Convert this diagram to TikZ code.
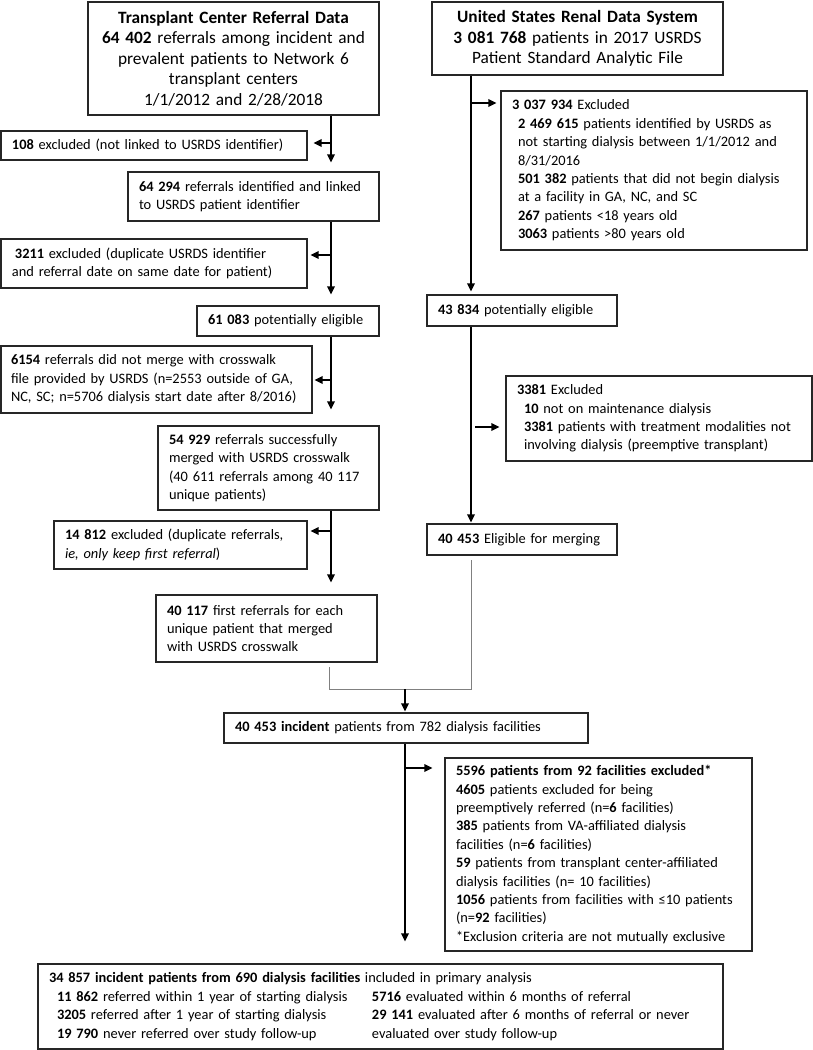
\documentclass[tikz,border=0pt]{standalone}
\usepackage{fontspec}
\setmainfont{Carlito}
\usetikzlibrary{arrows.meta}
\begin{document}
\begin{tikzpicture}[x=1pt,y=-1pt,
  box/.style={draw=black!85, line width=1.1pt, inner xsep=11pt, inner ysep=0pt,
    font=\fontsize{14.4}{18.4}\selectfont, align=left},
  headbox/.style={box, align=center, font=\fontsize{17.3}{20.5}\selectfont},
  arr/.style={line width=1.7pt, -{Triangle[length=8pt,width=7.5pt]}},
  thinline/.style={draw=black!50, line width=0.9pt}]
\useasboundingbox (0,0) rectangle (813,1050);

% ---------- left column ----------
\node[headbox, minimum width=291pt, minimum height=113pt, text width=275pt, inner xsep=8pt] (tc) at (233.5,58.5)
  {\textbf{Transplant Center Referral Data}\\
   \textbf{64 402} referrals among incident and\\
   prevalent patients to Network 6\\
   transplant centers\\
   1/1/2012 and 2/28/2018};
\node[box, minimum width=306pt, minimum height=29pt, text width=284pt] (x108) at (154,145.5)
  {\textbf{108} excluded (not linked to USRDS identifier)};
\node[box, minimum width=251pt, minimum height=49pt, text width=229pt] (b64294) at (253.5,196.5)
  {\textbf{64 294} referrals identified and linked\\to USRDS patient identifier};
\node[box, minimum width=306pt, minimum height=49pt, text width=284pt] (x3211) at (154,263.5)
  {\hspace*{3pt}\textbf{3211} excluded (duplicate USRDS identifier\\and referral date on same date for patient)};
\node[box, minimum width=182pt, minimum height=30pt, text width=160pt] (b61083) at (288,321)
  {\textbf{61 083} potentially eligible};
\node[box, minimum width=311pt, minimum height=67pt, text width=291pt, inner xsep=10pt] (x6154) at (156.5,379.5)
  {\textbf{6154} referrals did not merge with crosswalk\\
   file provided by USRDS (n=2553 outside of GA,\\
   NC, SC; n=5706 dialysis start date after 8/2016)};
\node[box, minimum width=221pt, minimum height=84pt, text width=199pt] (b54929) at (268.5,468)
  {\textbf{54 929} referrals successfully\\
   merged with USRDS crosswalk\\
   (40 611 referrals among 40 117\\
   unique patients)};
\node[box, minimum width=253pt, minimum height=48pt, text width=231pt] (x14812) at (180.5,545)
  {\textbf{14 812} excluded (duplicate referrals,\\\textit{ie, only keep first referral})};
\node[box, minimum width=221pt, minimum height=67pt, text width=199pt] (b40117) at (266.5,628.5)
  {\textbf{40 117} first referrals for each\\
   unique patient that merged\\
   with USRDS crosswalk};

% ---------- right column ----------
\node[headbox, minimum width=291pt, minimum height=73pt, text width=275pt, inner xsep=8pt] (us) at (577.5,38.5)
  {\textbf{United States Renal Data System}\\
   \textbf{3 081 768} patients in 2017 USRDS\\
   Patient Standard Analytic File};
\node[box, minimum width=306pt, minimum height=159pt, text width=284pt] (x3037) at (654,170.5)
  {\textbf{3 037 934} Excluded\\
   \hspace*{6pt}\textbf{2 469 615} patients identified by USRDS as\\
   \hspace*{6pt}not starting dialysis between 1/1/2012 and\\
   \hspace*{6pt}8/31/2016\\
   \hspace*{6pt}\textbf{501 382} patients that did not begin dialysis\\
   \hspace*{6pt}at a facility in GA, NC, and SC\\
   \hspace*{6pt}\textbf{267} patients <18 years old\\
   \hspace*{6pt}\textbf{3063} patients >80 years old};
\node[box, minimum width=190pt, minimum height=31pt, text width=168pt] (b43834) at (522,310.5)
  {\textbf{43 834} potentially eligible};
\node[box, minimum width=306pt, minimum height=85pt, text width=284pt] (x3381) at (659,418.5)
  {\textbf{3381} Excluded\\
   \hspace*{7pt}\textbf{10} not on maintenance dialysis\\
   \hspace*{7pt}\textbf{3381} patients with treatment modalities not\\
   \hspace*{7pt}involving dialysis (preemptive transplant)};
\node[box, minimum width=190pt, minimum height=31pt, text width=168pt] (b40453e) at (522,539.5)
  {\textbf{40 453} Eligible for merging};

% ---------- merged part ----------
\node[box, minimum width=364pt, minimum height=30pt, text width=342pt] (inc) at (406,728)
  {\textbf{40 453 incident} patients from 782 dialysis facilities};
\node[box, minimum width=307pt, minimum height=193pt, text width=285pt] (x5596) at (598.5,854.5)
  {\textbf{5596 patients from 92 facilities excluded*}\\
   \textbf{4605} patients excluded for being\\
   preemptively referred (n=\textbf{6} facilities)\\
   \textbf{385} patients from VA-affiliated dialysis\\
   facilities (n=\textbf{6} facilities)\\
   \textbf{59} patients from transplant center-affiliated\\
   dialysis facilities (n= 10 facilities)\\
   \textbf{1056} patients from facilities with ≤10 patients\\
   (n=\textbf{92} facilities)\\
   {*}Exclusion criteria are not mutually exclusive};
\node[box, minimum width=685pt, minimum height=85pt, text width=663pt] (final) at (380.5,1006.5)
  {\textbf{34 857 incident patients from 690 dialysis facilities} included in primary analysis\\
   \hspace*{8pt}\makebox[315pt][l]{\textbf{11 862} referred within 1 year of starting dialysis}\textbf{5716} evaluated within 6 months of referral\\
   \hspace*{8pt}\makebox[315pt][l]{\textbf{3205} referred after 1 year of starting dialysis}\textbf{29 141} evaluated after 6 months of referral or never\\
   \hspace*{8pt}\makebox[315pt][l]{\textbf{19 790} never referred over study follow-up}evaluated over study follow-up};

% ---------- connectors ----------
\coordinate (L) at (331,0);
\coordinate (R) at (471,0);
\coordinate (C) at (405,0);

\draw[arr, shorten >=9pt] (tc.south -| L) -- (b64294.north -| L);
\coordinate (j1) at (331,143);
\draw[arr, shorten >=6pt] (j1) -- (x108.east |- j1);

\draw[arr, shorten >=11pt] (b64294.south -| L) -- (b61083.north -| L);
\coordinate (j2) at (331,255);
\draw[arr, shorten >=3pt] (j2) -- (x3211.east |- j2);

\draw[arr, shorten >=16pt] (b61083.south -| L) -- (b54929.north -| L);
\coordinate (j3) at (331,380);
\draw[arr, shorten >=2pt] (j3) -- (x6154.east |- j3);

\draw[arr, shorten >=12pt] (b54929.south -| L) -- (b40117.north -| L);
\coordinate (j4) at (331,531);
\draw[arr, shorten >=3pt] (j4) -- (x14812.east |- j4);

\draw[arr, shorten >=3pt] (us.south -| R) -- (b43834.north -| R);
\coordinate (j5) at (471,103);
\draw[arr, shorten >=4pt] (j5) -- (x3037.west |- j5);

\draw[arr, shorten >=1pt] (b43834.south -| R) -- (b40453e.north -| R);
\coordinate (j6) at (475,427);
\draw[arr, shorten >=6pt] (j6) -- (x3381.west |- j6);

\coordinate (m) at (405,689);
\coordinate (gl) at (329,667);
\coordinate (gr) at (471,560);
\draw[thinline] (gl) |- (m) -| (gr);
\draw[arr, shorten >=1pt] (m) -- (inc.north -| m);

\draw[arr, shorten >=22pt] (inc.south -| C) -- (final.north -| C);
\coordinate (j7) at (405,768);
\draw[arr, shorten >=12pt] (j7) -- (x5596.west |- j7);
\end{tikzpicture}
\end{document}
